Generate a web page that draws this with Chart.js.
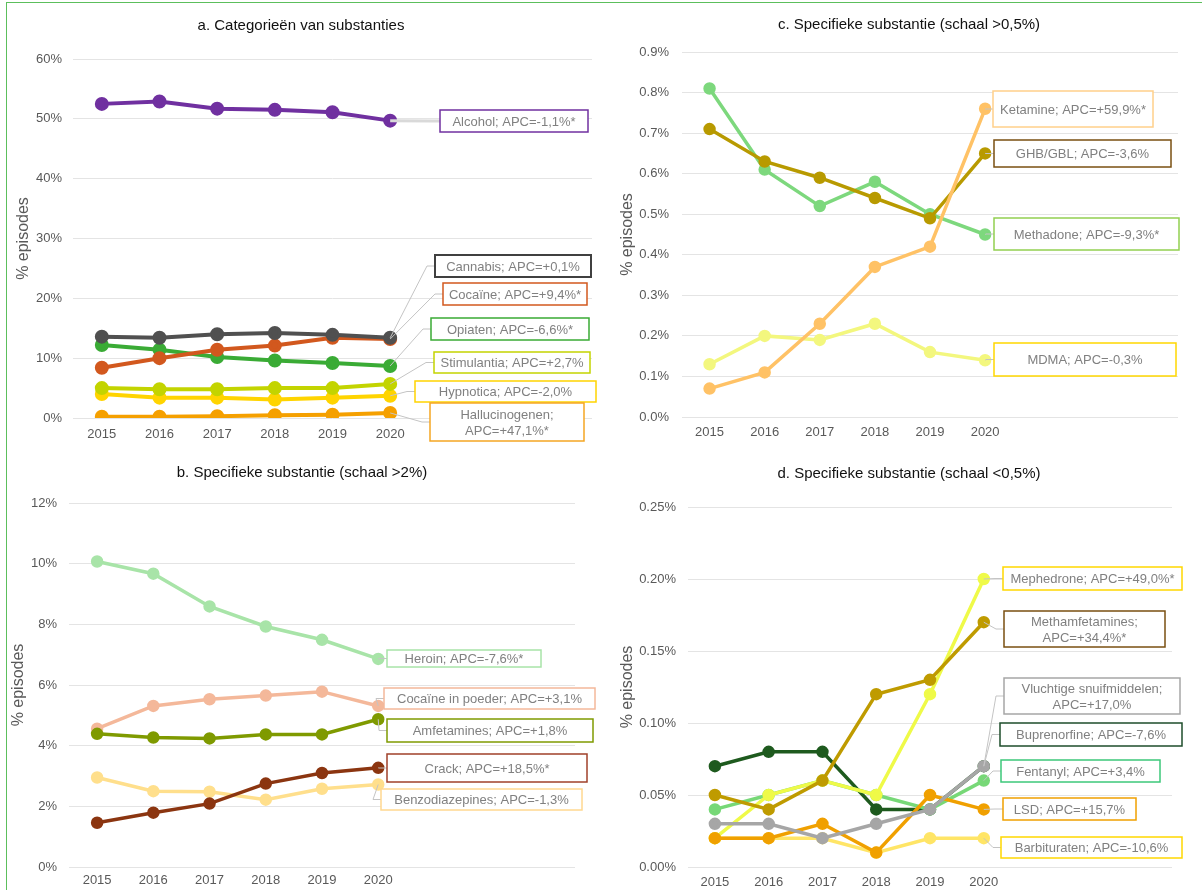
<!DOCTYPE html>
<html>
<head>
<meta charset="utf-8">
<script src="https://cdn.jsdelivr.net/npm/chart.js@4.4.1/dist/chart.umd.min.js"></script>
<style>
  body { margin: 0; background: #fff; width: 1202px; height: 890px; overflow: hidden; position: relative; }
  .frame { position: absolute; left: 6px; top: 2px; width: 1300px; height: 1000px; border-left: 1px solid #5cbf5c; border-top: 1px solid #5cbf5c; }
  .panel { position: absolute; width: 601px; height: 445px; }
</style>
</head>
<body>
<div class="frame"></div>
<div class="panel" style="left:0;top:0"><canvas id="chartA"></canvas></div>
<div class="panel" style="left:601px;top:0"><canvas id="chartC"></canvas></div>
<div class="panel" style="left:0;top:445px"><canvas id="chartB"></canvas></div>
<div class="panel" style="left:601px;top:445px"><canvas id="chartD"></canvas></div>
<script>
const years = [2015, 2016, 2017, 2018, 2019, 2020];

// a. Categorieën van substanties (%)
const alcohol = [52.5, 52.9, 51.7, 51.5, 51.1, 49.7];
const cannabis = [13.6, 13.4, 14.0, 14.2, 13.9, 13.4];
const cocaine = [8.4, 10.0, 11.4, 12.1, 13.4, 13.2];
const opiaten = [12.2, 11.4, 10.2, 9.6, 9.2, 8.7];
const stimulantia = [5.0, 4.8, 4.8, 5.0, 5.0, 5.7];
const hypnotica = [4.0, 3.4, 3.4, 3.1, 3.4, 3.7];
const hallucinogenen = [0.2, 0.2, 0.3, 0.45, 0.55, 0.85];

// b. Specifieke substantie (schaal >2%)
const heroin = [10.07, 9.67, 8.59, 7.93, 7.49, 6.86];
const cocainePoeder = [4.56, 5.31, 5.53, 5.65, 5.78, 5.31];
const amfetamines = [4.39, 4.27, 4.24, 4.37, 4.37, 4.87];
const crack = [1.46, 1.79, 2.09, 2.75, 3.10, 3.27];
const benzodiazepines = [2.95, 2.50, 2.48, 2.22, 2.58, 2.72];

// c. Specifieke substantie (schaal >0,5%)
const methadone = [0.81, 0.61, 0.52, 0.58, 0.50, 0.45];
const ghb = [0.71, 0.63, 0.59, 0.54, 0.49, 0.65];
const ketamine = [0.07, 0.11, 0.23, 0.37, 0.42, 0.76];
const mdma = [0.13, 0.20, 0.19, 0.23, 0.16, 0.14];

// d. Specifieke substantie (schaal <0,5%)
const mephedrone = [0.02, 0.05, 0.06, 0.05, 0.12, 0.20];
const methamfetamines = [0.05, 0.04, 0.06, 0.12, 0.13, 0.17];
const vluchtige = [0.03, 0.03, 0.02, 0.03, 0.04, 0.07];
const buprenorfine = [0.07, 0.08, 0.08, 0.04, 0.04, 0.07];
const fentanyl = [0.04, 0.05, 0.06, 0.05, 0.04, 0.06];
const lsd = [0.02, 0.02, 0.03, 0.01, 0.05, 0.04];
const barbituraten = [0.02, 0.02, 0.02, 0.01, 0.02, 0.02];

const FONT = '"Liberation Sans", Arial, sans-serif';
Chart.defaults.font.family = FONT;

function pts(vals) {
  return years.map((y, i) => ({ x: y, y: vals[i] }));
}

// titel + APC-labels met verbindingslijn naar het laatste punt
const labelPlugin = {
  id: 'apcLabels',
  beforeDraw(chart, args, opts) {
    const ctx = chart.ctx;
    ctx.save();
    ctx.font = '15px ' + FONT;
    ctx.fillStyle = '#111';
    ctx.textAlign = 'center';
    ctx.textBaseline = 'middle';
    ctx.fillText(opts.title, opts.titleX, opts.titleY);
    ctx.restore();
  },
  afterDatasetsDraw(chart, args, opts) {
    const ctx = chart.ctx;
    const xs = chart.scales.x, ys = chart.scales.y;
    opts.items.forEach(it => {
      const pt = chart.data.datasets[it.ds].data[years.length - 1];
      const px = xs.getPixelForValue(pt.x), py = ys.getPixelForValue(pt.y);
      const [bx, by, bw, bh] = it.box;
      const my = by + bh / 2;
      ctx.save();
      ctx.strokeStyle = it.leadColor || '#c4c4c4';
      ctx.lineWidth = it.leadWidth || 1;
      ctx.beginPath();
      ctx.moveTo(px, py);
      ctx.lineTo(bx - 8, my);
      ctx.lineTo(bx, my);
      ctx.stroke();
      ctx.fillStyle = '#fff';
      ctx.fillRect(bx, by, bw, bh);
      ctx.strokeStyle = it.border;
      ctx.lineWidth = it.bw || 1.5;
      ctx.strokeRect(bx, by, bw, bh);
      ctx.fillStyle = '#808080';
      ctx.font = '13px ' + FONT;
      ctx.textAlign = 'center';
      ctx.textBaseline = 'middle';
      const lines = it.text.split('\n');
      lines.forEach((t, i) => ctx.fillText(t, bx + bw / 2, my + 1 + (i - (lines.length - 1) / 2) * 16));
      ctx.restore();
    });
  }
};

function makeChart(id, p) {
  return new Chart(document.getElementById(id), {
    type: 'line',
    data: {
      datasets: p.series.map(s => ({
        label: s.label,
        data: pts(s.data),
        borderColor: s.color,
        backgroundColor: s.color,
        pointBackgroundColor: s.color,
        pointBorderColor: s.color,
        borderWidth: p.lw,
        pointRadius: p.pr,
        pointHoverRadius: p.pr,
        tension: 0
      }))
    },
    options: {
      responsive: true,
      maintainAspectRatio: false,
      animation: false,
      events: [],
      layout: { padding: { left: 0, top: p.area.top, right: 601 - p.area.right, bottom: 445 - p.area.bottom - 20 } },
      plugins: {
        legend: { display: false },
        tooltip: { enabled: false },
        apcLabels: { title: p.title, titleX: p.titleX, titleY: p.titleY, items: p.labels }
      },
      scales: {
        x: {
          type: 'linear', min: 2014.5, max: 2023.5,
          grid: { display: false, drawTicks: false }, border: { display: false },
          afterBuildTicks: a => { a.ticks = years.map(v => ({ value: v })); },
          afterFit: a => { a.height = 20; },
          ticks: { color: '#595959', font: { size: 13 }, padding: p.xPad, maxRotation: 0, callback: v => String(v) }
        },
        y: {
          min: 0, max: p.yMax,
          grid: { color: '#e4e4e4', drawTicks: false }, border: { display: false },
          afterFit: a => { a.width = p.area.left; },
          ticks: { stepSize: p.yStep, color: '#595959', font: { size: 13 }, padding: p.yPad, callback: v => v.toFixed(p.dec) + '%' },
          title: { display: true, text: '% episodes', color: '#595959', font: { size: 16 }, padding: { top: p.titlePad, bottom: 0 } }
        }
      }
    },
    plugins: [labelPlugin]
  });
}

// eerste dataset wordt bovenaan getekend
makeChart('chartA', {
  title: 'a. Categorieën van substanties', titleX: 301, titleY: 26,
  area: { left: 73, top: 59, right: 598, bottom: 418 },
  yMax: 60, yStep: 10, dec: 0, yPad: 11, xPad: 9, titlePad: 14, lw: 4, pr: 5,
  series: [
    { label: 'Alcohol', data: alcohol, color: '#7030a0' },
    { label: 'Cannabis', data: cannabis, color: '#505050' },
    { label: 'Cocaïne', data: cocaine, color: '#d2581e' },
    { label: 'Opiaten', data: opiaten, color: '#3aab35' },
    { label: 'Stimulantia', data: stimulantia, color: '#c3d400' },
    { label: 'Hypnotica', data: hypnotica, color: '#ffd400' },
    { label: 'Hallucinogenen', data: hallucinogenen, color: '#f5a000' }
  ],
  labels: [
    { ds: 0, text: 'Alcohol; APC=-1,1%*', box: [440, 110, 148, 22], border: '#7030a0', leadColor: '#d9d9d9', leadWidth: 3 },
    { ds: 1, text: 'Cannabis; APC=+0,1%', box: [435, 255, 156, 22], border: '#404040', bw: 2 },
    { ds: 2, text: 'Cocaïne; APC=+9,4%*', box: [443, 283, 144, 22], border: '#d2581e' },
    { ds: 3, text: 'Opiaten; APC=-6,6%*', box: [431, 318, 158, 22], border: '#3aab35' },
    { ds: 4, text: 'Stimulantia; APC=+2,7%', box: [434, 352, 156, 21], border: '#c3d400' },
    { ds: 5, text: 'Hypnotica; APC=-2,0%', box: [415, 381, 181, 21], border: '#ffd400' },
    { ds: 6, text: 'Hallucinogenen;\nAPC=+47,1%*', box: [430, 403, 154, 38], border: '#f5a623' }
  ]
});

makeChart('chartC', {
  title: 'c. Specifieke substantie (schaal >0,5%)', titleX: 308, titleY: 25,
  area: { left: 81, top: 52, right: 577, bottom: 417 },
  yMax: 0.9, yStep: 0.1, dec: 1, yPad: 13, xPad: 8, titlePad: 17, lw: 3.5, pr: 4.5,
  series: [
    { label: 'Ketamine', data: ketamine, color: '#ffc266' },
    { label: 'GHB/GBL', data: ghb, color: '#b89a00' },
    { label: 'Methadone', data: methadone, color: '#7dd87d' },
    { label: 'MDMA', data: mdma, color: '#f3f77e' }
  ],
  labels: [
    { ds: 0, text: 'Ketamine; APC=+59,9%*', box: [392, 91, 160, 36], border: '#ffd08a' },
    { ds: 1, text: 'GHB/GBL; APC=-3,6%', box: [393, 140, 177, 27], border: '#7a4f10' },
    { ds: 2, text: 'Methadone; APC=-9,3%*', box: [393, 218, 185, 32], border: '#92d050' },
    { ds: 3, text: 'MDMA; APC=-0,3%', box: [393, 343, 182, 33], border: '#ffd700' }
  ]
});

makeChart('chartB', {
  title: 'b. Specifieke substantie (schaal >2%)', titleX: 302, titleY: 28,
  area: { left: 69, top: 58, right: 575, bottom: 422 },
  yMax: 12, yStep: 2, dec: 0, yPad: 12, xPad: 6, titlePad: 9, lw: 3.5, pr: 4.5,
  series: [
    { label: 'Crack', data: crack, color: '#8b3510' },
    { label: 'Amfetamines', data: amfetamines, color: '#7f9a00' },
    { label: 'Cocaïne in poeder', data: cocainePoeder, color: '#f4b89a' },
    { label: 'Heroin', data: heroin, color: '#a8e4a8' },
    { label: 'Benzodiazepines', data: benzodiazepines, color: '#ffdf8c' }
  ],
  labels: [
    { ds: 3, text: 'Heroin; APC=-7,6%*', box: [387, 205, 154, 17], border: '#a8e4a8' },
    { ds: 2, text: 'Cocaïne in poeder; APC=+3,1%', box: [384, 243, 211, 21], border: '#f4b89a' },
    { ds: 1, text: 'Amfetamines; APC=+1,8%', box: [387, 274, 206, 23], border: '#7f9a00' },
    { ds: 0, text: 'Crack; APC=+18,5%*', box: [387, 309, 200, 28], border: '#a0402a' },
    { ds: 4, text: 'Benzodiazepines; APC=-1,3%', box: [381, 344, 201, 21], border: '#ffd890' }
  ]
});

makeChart('chartD', {
  title: 'd. Specifieke substantie (schaal <0,5%)', titleX: 308, titleY: 29,
  area: { left: 87, top: 62, right: 571, bottom: 422 },
  yMax: 0.25, yStep: 0.05, dec: 2, yPad: 12, xPad: 8, titlePad: 17, lw: 3.5, pr: 4.5,
  series: [
    { label: 'Vluchtige snuifmiddelen', data: vluchtige, color: '#a6a6a6' },
    { label: 'LSD', data: lsd, color: '#f0a000' },
    { label: 'Methamfetamines', data: methamfetamines, color: '#bf9b00' },
    { label: 'Mephedrone', data: mephedrone, color: '#effa48' },
    { label: 'Fentanyl', data: fentanyl, color: '#77d877' },
    { label: 'Buprenorfine', data: buprenorfine, color: '#1e5a1e' },
    { label: 'Barbituraten', data: barbituraten, color: '#ffe566' }
  ],
  labels: [
    { ds: 3, text: 'Mephedrone; APC=+49,0%*', box: [402, 122, 179, 23], border: '#ffd700' },
    { ds: 2, text: 'Methamfetamines;\nAPC=+34,4%*', box: [403, 166, 161, 36], border: '#7a4f10' },
    { ds: 0, text: 'Vluchtige snuifmiddelen;\nAPC=+17,0%', box: [403, 233, 176, 36], border: '#a6a6a6' },
    { ds: 5, text: 'Buprenorfine; APC=-7,6%', box: [399, 278, 182, 23], border: '#1e4d2b' },
    { ds: 4, text: 'Fentanyl; APC=+3,4%', box: [400, 315, 159, 22], border: '#3cc87a' },
    { ds: 1, text: 'LSD; APC=+15,7%', box: [402, 353, 133, 22], border: '#f0a000' },
    { ds: 6, text: 'Barbituraten; APC=-10,6%', box: [400, 392, 181, 21], border: '#ffd700' }
  ]
});
</script>
</body>
</html>
